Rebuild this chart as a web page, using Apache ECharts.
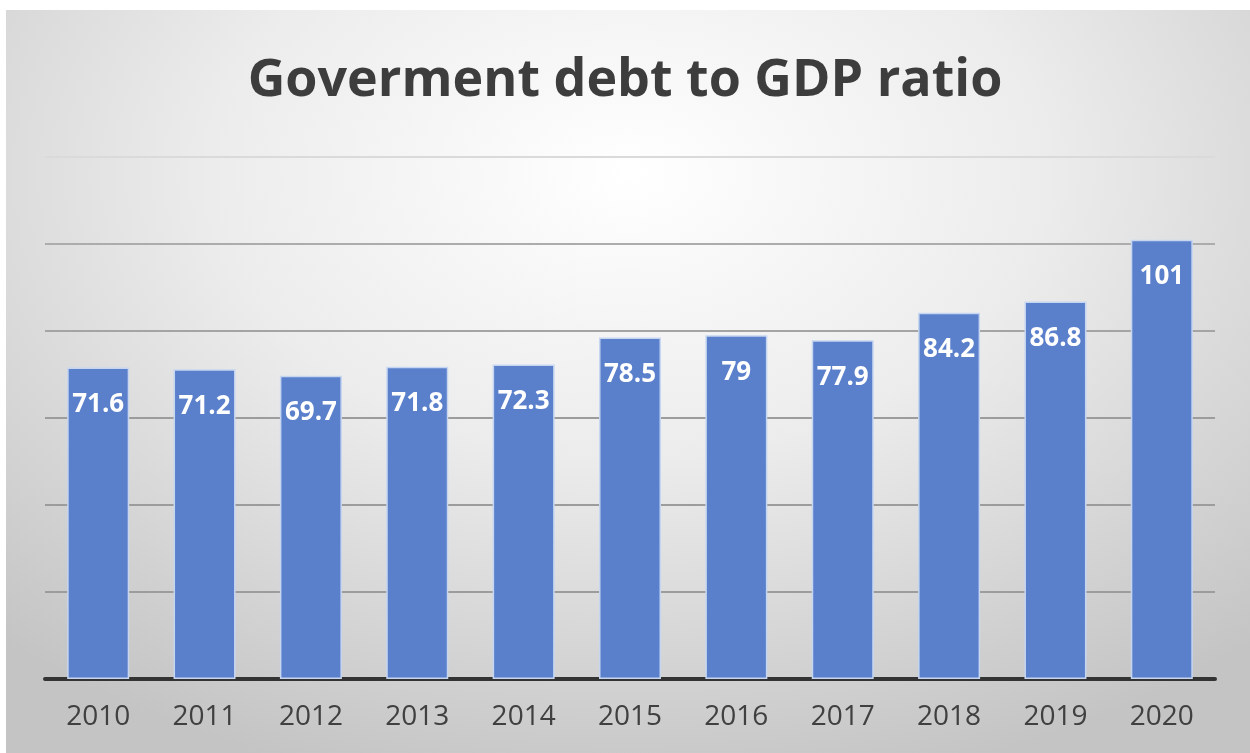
<!DOCTYPE html>
<html lang="en">

<head>
    <meta charset="UTF-8">
    <title>Goverment debt to GDP ratio</title>
    <script src="https://cdn.jsdelivr.net/npm/echarts/dist/echarts.min.js"></script>
    <style>
        body { margin: 0; background: #ffffff; }
        #bg {
            position: absolute; left: 6px; top: 10px; width: 1244px; height: 743px;
            background: radial-gradient(ellipse 75% 85% at 50% 22%, #ffffff 0%, #ececec 45%, #d2d2d2 80%, #c4c4c4 100%);
        }
        #main { position: absolute; left: 0; top: 0; width: 1250px; height: 753px; }
    </style>
</head>

<body>
    <div id="bg"></div>
    <div id="main"></div>
    <script type="text/javascript">
        var years = ['2010', '2011', '2012', '2013', '2014', '2015', '2016', '2017', '2018', '2019', '2020'];
        var debtRatio = [71.6, 71.2, 69.7, 71.8, 72.3, 78.5, 79, 77.9, 84.2, 86.8, 101];

        var myChart = echarts.init(document.getElementById('main'));
        var option = {
            backgroundColor: 'transparent',
            title: {
                text: 'Goverment debt to GDP ratio',
                left: 'center',
                top: 50,
                textStyle: {
                    fontFamily: 'Open Sans',
                    fontWeight: 'bold',
                    fontSize: 52,
                    color: '#3d3d3d'
                }
            },
            grid: {
                left: 45,
                right: 35,
                top: 157,
                bottom: 74
            },
            xAxis: {
                type: 'category',
                data: years,
                axisTick: { show: false },
                axisLine: {
                    lineStyle: { color: '#333333', width: 4 }
                },
                axisLabel: {
                    margin: 24,
                    fontFamily: 'Open Sans',
                    fontSize: 28,
                    color: '#404040'
                }
            },
            yAxis: {
                type: 'value',
                min: 0,
                max: 120,
                interval: 20,
                axisLabel: { show: false },
                axisLine: { show: false },
                axisTick: { show: false },
                splitLine: {
                    lineStyle: {
                        // top line (120) is fainter in the original
                        color: ['#9c9c9c', '#9c9c9c', '#9c9c9c', '#9c9c9c', '#a4a4a4', '#acacac', '#dadada'],
                        width: 2
                    }
                }
            },
            series: [{
                name: 'Debt to GDP',
                type: 'bar',
                data: debtRatio,
                barWidth: 62,
                itemStyle: {
                    color: '#5a7fcb',
                    borderColor: '#c6d6f1',
                    borderWidth: 1.5
                },
                label: {
                    show: true,
                    position: 'insideTop',
                    distance: 24,
                    fontFamily: 'Open Sans',
                    fontWeight: 'bold',
                    fontSize: 26,
                    color: '#ffffff'
                }
            }]
        };
        myChart.setOption(option);
    </script>
</body>

</html>
